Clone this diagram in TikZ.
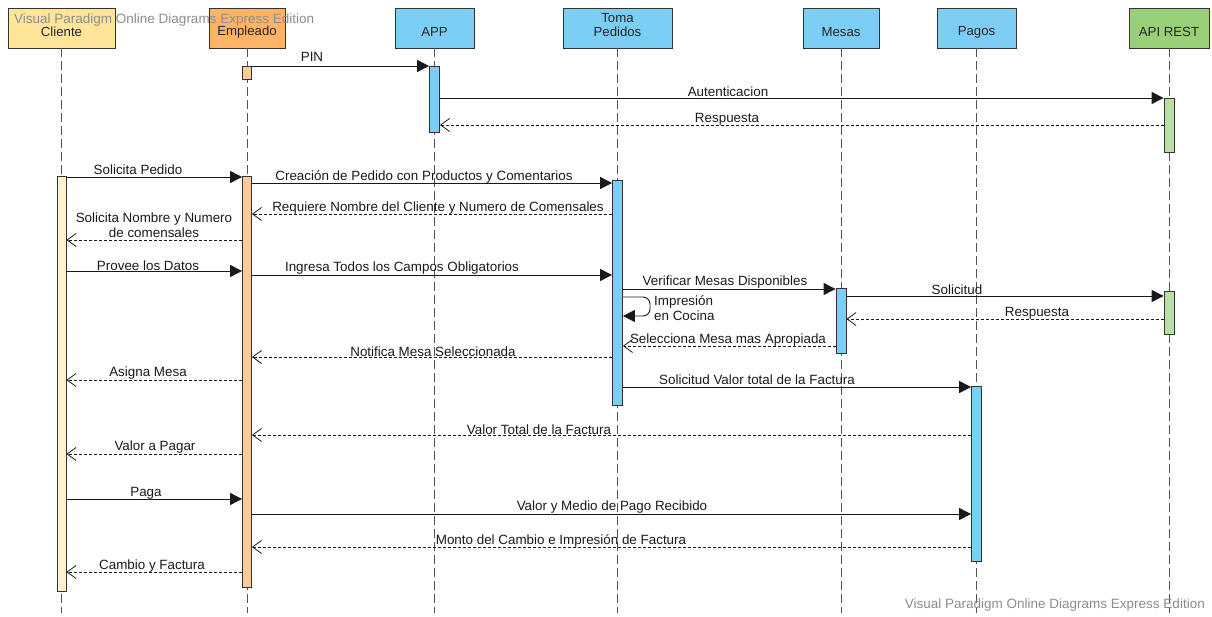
\documentclass[tikz,border=0pt]{standalone}
\usepackage{fontspec}
\setmainfont{Liberation Sans}
\usetikzlibrary{arrows.meta}
\definecolor{cliFill}{HTML}{FFE599}
\definecolor{empFill}{HTML}{FFB366}
\definecolor{sysFill}{HTML}{7CCEF4}
\definecolor{apiFill}{HTML}{97D077}
\definecolor{cliAct}{HTML}{FFF2CC}
\definecolor{empAct}{HTML}{FFCC99}
\definecolor{apiAct}{HTML}{B9E0A5}
\definecolor{edge}{HTML}{333333}
\definecolor{wmark}{HTML}{8C8C8C}
\begin{document}
\begin{tikzpicture}[x=1pt,y=-1pt,
  hdr/.style={draw=edge, line width=0.9pt, minimum height=40pt, inner sep=0pt},
  hdrtext/.style={font=\fontsize{13.2}{14.5}\selectfont, text=black!85, align=center, inner sep=0pt},
  life/.style={draw=edge!85, line width=0.8pt, dash pattern=on 9pt off 4pt},
  act/.style={draw=edge, line width=0.8pt, minimum width=10pt, inner sep=0pt},
  msg/.style={draw=black!90, line width=0.9pt, -{Triangle[length=12pt,width=12pt]}},
  ret/.style={draw=black!90, line width=0.75pt, dash pattern=on 3pt off 2pt,
              -{Straight Barb[length=9pt,width=13pt,line width=0.8pt]}},
  lbl/.style={font=\fontsize{13.4}{14.8}\selectfont, text=black!90, inner sep=0pt, align=center},
  wm/.style={font=\fontsize{13.5}{15}\selectfont, text=wmark, inner sep=0pt}]
\useasboundingbox (0,0) rectangle (1212,617);

% participant heads
\node[hdr, fill=cliFill, minimum width=107pt, label={[hdrtext, yshift=-4pt]center:Cliente}] (cli) at (61.5,28) {};
\node[hdr, fill=empFill, minimum width=76pt, label={[hdrtext, yshift=-4pt]center:Empleado}] (emp) at (247,28) {};
\node[hdr, fill=sysFill, minimum width=79pt, label={[hdrtext, yshift=-4pt]center:APP}] (app) at (434.5,28) {};
\node[hdr, fill=sysFill, minimum width=109pt, label={[hdrtext, yshift=3pt]center:Toma\\Pedidos}] (tom) at (617.5,28) {};
\node[hdr, fill=sysFill, minimum width=76pt, label={[hdrtext, yshift=-4pt]center:Mesas}] (mes) at (841,28) {};
\node[hdr, fill=sysFill, minimum width=79pt, label={[hdrtext, yshift=-4pt]center:Pagos}] (pag) at (976.5,28) {};
\node[hdr, fill=apiFill, minimum width=80pt, label={[hdrtext, yshift=-4pt]center:API REST}] (api) at (1169,28) {};

% lifelines
\foreach \p in {cli,emp,app,tom,mes,pag,api}
  \draw[life] (\p.south) -- (\p.south |- 0,613);

% activation bars
\node[act, fill=empAct, minimum width=9pt, minimum height=13pt] (eA) at (emp.center |- 0,72.5) {};
\node[act, fill=sysFill, minimum height=66pt] (appA) at (app.center |- 0,99) {};
\node[act, fill=apiAct, minimum height=54pt] (apiA1) at (api.center |- 0,125) {};
\node[act, fill=cliAct, minimum width=9pt, minimum height=415pt] (cliA) at (cli.center |- 0,383.5) {};
\node[act, fill=empAct, minimum width=9pt, minimum height=411pt] (empA) at (emp.center |- 0,381.5) {};
\node[act, fill=sysFill, minimum height=225pt] (tomA) at (tom.center |- 0,292.5) {};
\node[act, fill=sysFill, minimum height=65pt] (mesA) at (mes.center |- 0,320.5) {};
\node[act, fill=apiAct, minimum height=43pt] (apiA2) at (api.center |- 0,312.5) {};
\node[act, fill=sysFill, minimum height=175pt] (pagA) at (pag.center |- 0,473.5) {};

% messages
\draw[msg] (eA.east |- 0,66) -- (appA.west |- 0,66);
\node[lbl] (m1) at (312,57) {PIN};
\draw[msg] (appA.east |- 0,98) -- (apiA1.west |- 0,98);
\node[lbl] (m2) at (728,92) {Autenticacion};
\draw[ret] (apiA1.west |- 0,125) -- (appA.east |- 0,125);
\node[lbl] (m3) at (727,119) {Respuesta};

\draw[msg] (cliA.east |- 0,177) -- (empA.west |- 0,177);
\node[lbl] (m4) at (138,170) {Solicita Pedido};
\draw[msg] (empA.east |- 0,183) -- (tomA.west |- 0,183);
\node[lbl] (m5) at (424,177) {Creación de Pedido con Productos y Comentarios};
\draw[ret] (tomA.west |- 0,214) -- (empA.east |- 0,214);
\node[lbl] (m6) at (438,208) {Requiere Nombre del Cliente y Numero de Comensales};
\draw[ret] (empA.west |- 0,240) -- (cliA.east |- 0,240);
\node[lbl] (m7) at (154,225) {Solicita Nombre y Numero\\de comensales};
\draw[msg] (cliA.east |- 0,271) -- (empA.west |- 0,271);
\node[lbl] (m8) at (148,266) {Provee los Datos};
\draw[msg] (empA.east |- 0,275) -- (tomA.west |- 0,275);
\node[lbl] (m9) at (402,268) {Ingresa Todos los Campos Obligatorios};

\draw[msg] (tomA.east |- 0,289) -- (mesA.west |- 0,289);
\node[lbl] (m10) at (725,282) {Verificar Mesas Disponibles};
\draw[msg] (mesA.east |- 0,296) -- (apiA2.west |- 0,296);
\node[lbl] (m11) at (957,290) {Solicitud};
\draw[msg, rounded corners=7pt] (tomA.east |- 0,297) -- (650,297) -- (650,316) -- (tomA.east |- 0,316);
\node[lbl, align=left, anchor=west] (m12) at (654,308.5) {Impresión\\en Cocina};
\draw[ret] (apiA2.west |- 0,319) -- (mesA.east |- 0,319);
\node[lbl] (m13) at (1037,313) {Respuesta};
\draw[ret] (mesA.west |- 0,346) -- (tomA.east |- 0,346);
\node[lbl] (m14) at (728,340) {Selecciona Mesa mas Apropiada};
\draw[ret] (tomA.west |- 0,357) -- (empA.east |- 0,357);
\node[lbl] (m15) at (433,352) {Notifica Mesa Seleccionada};
\draw[ret] (empA.west |- 0,380) -- (cliA.east |- 0,380);
\node[lbl] (m16) at (148,373) {Asigna Mesa};
\draw[msg] (tomA.east |- 0,387) -- (pagA.west |- 0,387);
\node[lbl] (m17) at (757,380) {Solicitud Valor total de la Factura};

\draw[ret] (pagA.west |- 0,435) -- (empA.east |- 0,435);
\node[lbl] (m18) at (539,430) {Valor Total de la Factura};
\draw[ret] (empA.west |- 0,454) -- (cliA.east |- 0,454);
\node[lbl] (m19) at (155,447) {Valor a Pagar};
\draw[msg] (cliA.east |- 0,499) -- (empA.west |- 0,499);
\node[lbl] (m20) at (146,493) {Paga};
\draw[msg] (empA.east |- 0,514) -- (pagA.west |- 0,514);
\node[lbl] (m21) at (612,507) {Valor y Medio de Pago Recibido};
\draw[ret] (pagA.west |- 0,547) -- (empA.east |- 0,547);
\node[lbl] (m22) at (561,541) {Monto del Cambio e Impresión de Factura};
\draw[ret] (empA.west |- 0,572) -- (cliA.east |- 0,572);
\node[lbl] (m23) at (152,566) {Cambio y Factura};

% edition marks
\node[wm, anchor=west] (wm1) at (14,20) {Visual Paradigm Online Diagrams Express Edition};
\node[wm, anchor=east] (wm2) at (1205,605) {Visual Paradigm Online Diagrams Express Edition};
\end{tikzpicture}
\end{document}
